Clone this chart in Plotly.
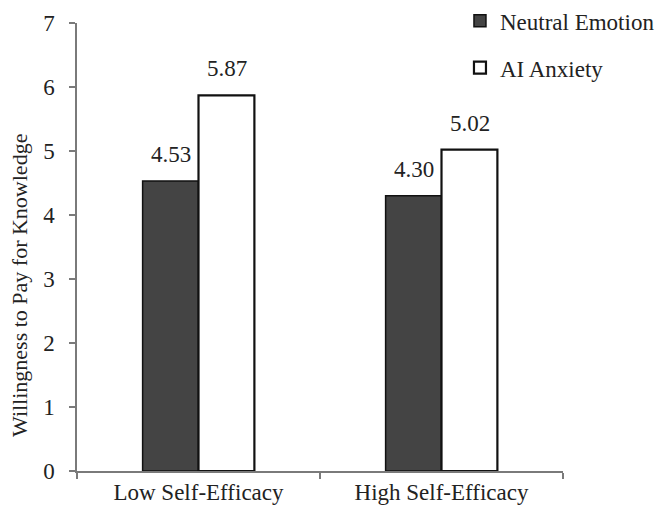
import plotly.graph_objects as go

categories = ["Low Self-Efficacy", "High Self-Efficacy"]
neutral = [4.53, 4.30]
anxiety = [5.87, 5.02]
series_names = ["Neutral Emotion", "AI Anxiety"]
y_ticks = [0, 1, 2, 3, 4, 5, 6, 7]
y_title = "Willingness to Pay for Knowledge"

FONT = "'Times New Roman', Times, 'Liberation Serif', 'DejaVu Serif', serif"
TXT = "#222222"

fig = go.Figure()
fig.add_trace(go.Bar(
    x=categories, y=neutral, name=series_names[0],
    marker=dict(color="#444444", line=dict(color="#111111", width=1.5)),
    legendgroup="a",
))
fig.add_trace(go.Bar(
    x=categories, y=anxiety, name=series_names[1],
    marker=dict(color="#ffffff", line=dict(color="#111111", width=2.2)),
    legendgroup="b",
))

annotations = []
for vals, shift in ((neutral, -28), (anxiety, 28)):
    for c, v in zip(categories, vals):
        annotations.append(dict(
            x=c, y=v, xref="x", yref="y", text=f"{v:.2f}", showarrow=False,
            xshift=shift, yshift=12, yanchor="bottom",
            font=dict(family=FONT, size=23, color=TXT),
        ))
annotations.append(dict(
    x=-58 / 486, y=(471 - 286) / 448, xref="paper", yref="paper",
    text=y_title, textangle=-90, showarrow=False,
    xanchor="center", yanchor="middle",
    font=dict(family=FONT, size=22, color=TXT),
))

fig.update_layout(
    width=669, height=522,
    margin=dict(l=69, r=114, t=15, b=59, autoexpand=False),
    plot_bgcolor="white", paper_bgcolor="white",
    barmode="group", bargap=0.54, bargroupgap=0,
    font=dict(family=FONT, size=23, color=TXT),
    showlegend=True,
    legend=dict(
        x=0.788, y=1.053, xanchor="left", yanchor="top",
        traceorder="grouped", tracegroupgap=14,
        itemwidth=30, font=dict(family=FONT, size=23, color=TXT),
        bgcolor="rgba(0,0,0,0)",
    ),
    annotations=annotations,
    xaxis=dict(
        range=[-0.5, 1.5], showline=True, linecolor="#7a7a7a", linewidth=1.5,
        ticks="outside", tickson="boundaries", ticklen=6, tickcolor="#7a7a7a",
        tickwidth=1.5, showgrid=False, zeroline=False,
        tickfont=dict(family=FONT, size=23, color=TXT),
    ),
    yaxis=dict(
        range=[0, 7], tickvals=y_ticks, showline=True, linecolor="#7a7a7a",
        linewidth=1.5, ticks="outside", ticklen=6, tickcolor="#7a7a7a",
        tickwidth=1.5, showgrid=False, zeroline=False,
        ticklabelstandoff=10,
        tickfont=dict(family=FONT, size=23, color=TXT),
    ),
)

fig.write_html("out.html")
